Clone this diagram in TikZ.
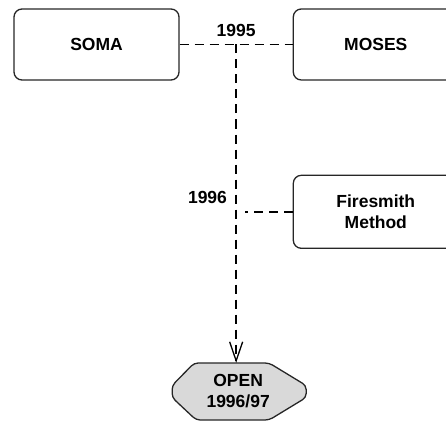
\documentclass[tikz,border=0pt]{standalone}
\usepackage{fontspec}
\setmainfont{Liberation Sans}
\usetikzlibrary{arrows.meta,positioning}
\pgfdeclarelayer{background}
\pgfsetlayers{background,main}
\tikzstyle{method} = [draw=black!85, line width=1.3pt, rounded corners=8pt,
  minimum width=165pt, minimum height=71pt, text width=150pt, align=center,
  font=\bfseries\fontsize{17.5}{21}\selectfont]
\tikzstyle{result} = [minimum width=134pt, minimum height=57pt, align=center,
  font=\bfseries\fontsize{17.5}{21}\selectfont]
\tikzstyle{year} = [inner sep=0pt, font=\bfseries\fontsize{17.5}{21}\selectfont]
\tikzstyle{link} = [draw, line width=1.4pt, dash pattern=on 9pt off 6pt]
\newcommand{\methodbox}[3]{node (#1) [method, #2] {#3}}

\begin{document}
\begin{tikzpicture}[x=1pt, y=1pt]
\useasboundingbox (0,0) rectangle (446,421);
% Draw diagram elements
\path (96.5,376.5) \methodbox{soma}{}{SOMA};
\path (soma.east)+(113,0) \methodbox{moses}{anchor=west}{MOSES};
\path (moses.south west)+(0,-94) \methodbox{fire}{anchor=north west,
  minimum height=73pt}{Firesmith\\Method};

\path (soma.east)+(56.5,0) coordinate (j1);
\path (j1 |- fire.west) coordinate (j2);
\path (j1)+(2,-347) node (open) [result] {OPEN\\1996/97};

% Years
\node [year, above=7.5pt of j1] (y1995) {1995};
\node [year, above left=8pt and 9pt of j2] (y1996) {1996};

% Draw connectors between elements
\path [link] (soma.east) -- (moses.west);
\path [link, shorten >=9pt] (fire.west) -- (j2);
\path [link, -{Straight Barb[length=19pt, width=13pt, line width=1.3pt]}]
  (j1) -- (j1 |- open.north);

\begin{pgfonlayer}{background}
  % Outline of the result
  \path [draw=black!85, line width=1.3pt, fill=black!15, rounded corners=4pt,
    shift={(open.center)}]
    (-44,28.5) -- (31,28.5) -- (68,6) -- (68,-6) -- (31,-28.5)
    -- (-42,-28.5) -- (-66,-6) -- (-66,6) -- cycle;
\end{pgfonlayer}
\end{tikzpicture}
\end{document}
